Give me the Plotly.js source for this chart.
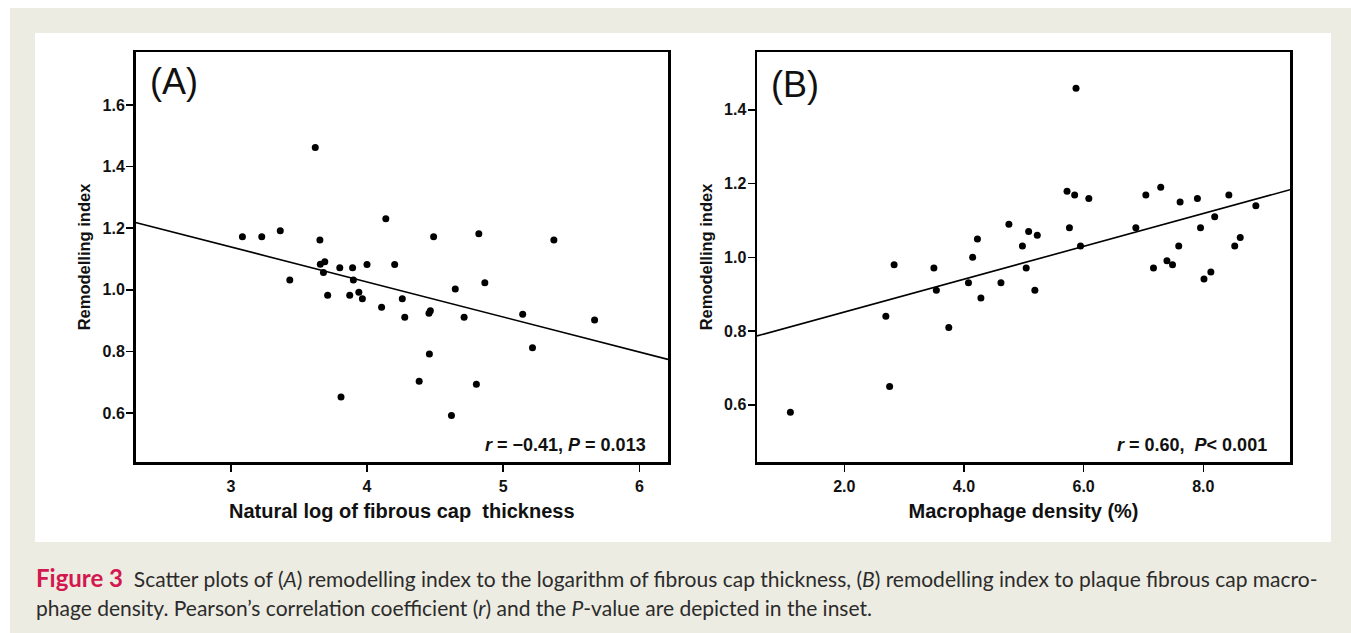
<!DOCTYPE html>
<html>
<head>
<meta charset="utf-8">
<script src="https://cdn.plot.ly/plotly-3.0.1.min.js"></script>
<style>html,body{margin:0;padding:0;background:#fff;}#chart{width:1351px;height:633px;}</style>
</head>
<body>
<div id="chart"></div>
<script>
// Panel A: natural log of fibrous cap thickness vs remodelling index
const capLogThickness = [3.62,3.085,3.227,3.363,3.654,4.138,4.489,4.821,5.372,3.657,3.69,3.68,3.80,3.894,4.0,4.203,3.90,3.433,3.711,3.873,3.94,3.966,4.107,4.259,4.277,4.455,4.465,4.648,4.713,4.865,5.143,5.671,5.215,4.458,4.383,4.803,3.809,4.62];
const remodA = [1.462,1.172,1.172,1.192,1.162,1.231,1.172,1.182,1.162,1.083,1.091,1.056,1.072,1.072,1.082,1.082,1.032,1.032,0.982,0.982,0.992,0.971,0.943,0.971,0.911,0.924,0.932,1.003,0.911,1.023,0.921,0.902,0.812,0.792,0.703,0.693,0.652,0.592];
// Panel B: macrophage density (%) vs remodelling index
const macrophageDensity = [5.873,1.098,2.757,2.694,2.832,3.746,3.497,3.538,4.075,4.145,4.225,4.283,4.618,4.751,4.977,5.04,5.081,5.225,5.185,5.723,5.85,5.763,5.948,6.087,6.873,7.04,7.168,7.289,7.393,7.486,7.613,7.590,7.902,7.954,8.012,8.127,8.191,8.428,8.526,8.618,8.879];
const remodB = [1.459,0.580,0.650,0.840,0.980,0.810,0.971,0.911,0.931,1.0,1.05,0.890,0.931,1.09,1.031,0.971,1.070,1.060,0.911,1.179,1.169,1.080,1.031,1.160,1.080,1.169,0.971,1.190,0.991,0.980,1.150,1.031,1.160,1.080,0.941,0.960,1.110,1.169,1.031,1.054,1.140];
// Tick values / labels
const xTicksA = [3,4,5,6];
const yTicksA = [0.6,0.8,1.0,1.2,1.4,1.6];
const xTicksB = [2,4,6,8];
const yTicksB = [0.6,0.8,1.0,1.2,1.4];
const statsA = '<i>r</i> = \u22120.41, <i>P</i> = 0.013';
const statsB = '<i>r</i> = 0.60,  <i>P</i>&lt; 0.001';

const W = 1351, H = 633;
const px = v => v / W;
const py = v => 1 - v / H;

function fit(xs, ys) {
  const n = xs.length;
  const mx = xs.reduce((a,b)=>a+b,0)/n, my = ys.reduce((a,b)=>a+b,0)/n;
  let sxy = 0, sxx = 0;
  for (let i=0;i<n;i++){ sxy += (xs[i]-mx)*(ys[i]-my); sxx += (xs[i]-mx)**2; }
  const b = sxy/sxx; return {b, a: my - b*mx};
}
const rangeXA = [2.30, 6.21], rangeYA = [0.441, 1.772];
const rangeXB = [0.54, 9.45], rangeYB = [0.445, 1.557];
const fA = fit(capLogThickness, remodA), fB = fit(macrophageDensity, remodB);

const dot = {color:'#000', size:7};
const traces = [
  {x: capLogThickness, y: remodA, type:'scatter', mode:'markers', marker: dot, xaxis:'x', yaxis:'y', hoverinfo:'x+y'},
  {x: rangeXA, y: rangeXA.map(v=>fA.a+fA.b*v), type:'scatter', mode:'lines', line:{color:'#000', width:1.6}, xaxis:'x', yaxis:'y'},
  {x: macrophageDensity, y: remodB, type:'scatter', mode:'markers', marker: dot, xaxis:'x2', yaxis:'y2', hoverinfo:'x+y'},
  {x: rangeXB, y: rangeXB.map(v=>fB.a+fB.b*v), type:'scatter', mode:'lines', line:{color:'#000', width:1.6}, xaxis:'x2', yaxis:'y2'}
];

const tickFont = {family:'"Liberation Sans",Arial,sans-serif', size:16, color:'#111', weight:700};
const xTitleFont = {family:'"Liberation Sans",Arial,sans-serif', size:20, color:'#111', weight:700};
const yTitleFont = {family:'"Liberation Sans",Arial,sans-serif', size:16.5, color:'#111', weight:700};
function axis(o){
  return Object.assign({showline:true, linecolor:'#000', linewidth:2.5, mirror:true, ticks:'outside', ticklen:7, tickwidth:1.5, tickcolor:'#000', showgrid:false, zeroline:false, tickfont:tickFont, fixedrange:true}, o);
}
const capFont = {family:'Lato, "Open Sans", sans-serif', size:21, color:'#2b2b2b'};
const layout = {
  width: W, height: H,
  margin:{l:0,r:0,t:0,b:0},
  paper_bgcolor:'#ffffff', plot_bgcolor:'rgba(0,0,0,0)',
  showlegend:false,
  xaxis: axis({domain:[px(135.5), px(668)], range:rangeXA, tickvals:xTicksA, tickformat:'d', anchor:'y', ticklabelstandoff:1, title:{text:'Natural log of fibrous cap  thickness', font:xTitleFont, standoff:11}}),
  yaxis: axis({domain:[py(462), py(52)], range:rangeYA, tickvals:yTicksA, tickformat:'.1f', anchor:'x', ticklabelstandoff:-2, title:{text:'Remodelling index', font:yTitleFont, standoff:8}}),
  xaxis2: axis({domain:[px(757), px(1290)], range:rangeXB, tickvals:xTicksB, tickformat:'.1f', anchor:'y2', ticklabelstandoff:1, title:{text:'Macrophage density (%)', font:xTitleFont, standoff:11}}),
  yaxis2: axis({domain:[py(462), py(52)], range:rangeYB, tickvals:yTicksB, tickformat:'.1f', anchor:'x2', ticklabelstandoff:-2, title:{text:'Remodelling index', font:yTitleFont, standoff:8}}),
  shapes: [
    {type:'rect', xref:'paper', yref:'paper', x0:px(10), x1:1, y0:0, y1:py(8), fillcolor:'#EDECE2', line:{width:0}, layer:'below'},
    {type:'rect', xref:'paper', yref:'paper', x0:px(35), x1:px(1331), y0:py(542), y1:py(33), fillcolor:'#ffffff', line:{width:0}, layer:'below'}
  ],
  annotations: [
    {xref:'paper', yref:'paper', x:px(148), y:py(81), xanchor:'left', yanchor:'middle', text:'(A)', showarrow:false, font:{family:'"Liberation Sans",Arial,sans-serif', size:36, color:'#111'}},
    {xref:'paper', yref:'paper', x:px(769), y:py(85), xanchor:'left', yanchor:'middle', text:'(B)', showarrow:false, font:{family:'"Liberation Sans",Arial,sans-serif', size:36, color:'#111'}},
    {xref:'paper', yref:'paper', x:px(648), y:py(445), xanchor:'right', yanchor:'middle', text:'<b>'+statsA+'</b>', showarrow:false, font:{family:'"Liberation Sans Narrow","Arial Narrow","Liberation Sans",sans-serif', size:18, color:'#111'}},
    {xref:'paper', yref:'paper', x:px(1269), y:py(445), xanchor:'right', yanchor:'middle', text:'<b>'+statsB+'</b>', showarrow:false, font:{family:'"Liberation Sans Narrow","Arial Narrow","Liberation Sans",sans-serif', size:18, color:'#111'}},
    {xref:'paper', yref:'paper', x:px(34), y:py(577), xanchor:'left', yanchor:'middle', align:'left', showarrow:false, font:capFont,
     text:'<span style="color:#D3174F;font-size:24px;font-weight:bold">Figure 3</span>  Scatter plots of (<i>A</i>) remodelling index to the logarithm of fibrous cap thickness, (<i>B</i>) remodelling index to plaque fibrous cap macro-'},
    {xref:'paper', yref:'paper', x:px(34), y:py(607), xanchor:'left', yanchor:'middle', align:'left', showarrow:false, font:capFont,
     text:'phage density. Pearson\u2019s correlation coefficient (<i>r</i>) and the <i>P</i>-value are depicted in the inset.'}
  ]
};
Plotly.newPlot('chart', traces, layout, {displayModeBar:false, staticPlot:true});
</script>
</body>
</html>
